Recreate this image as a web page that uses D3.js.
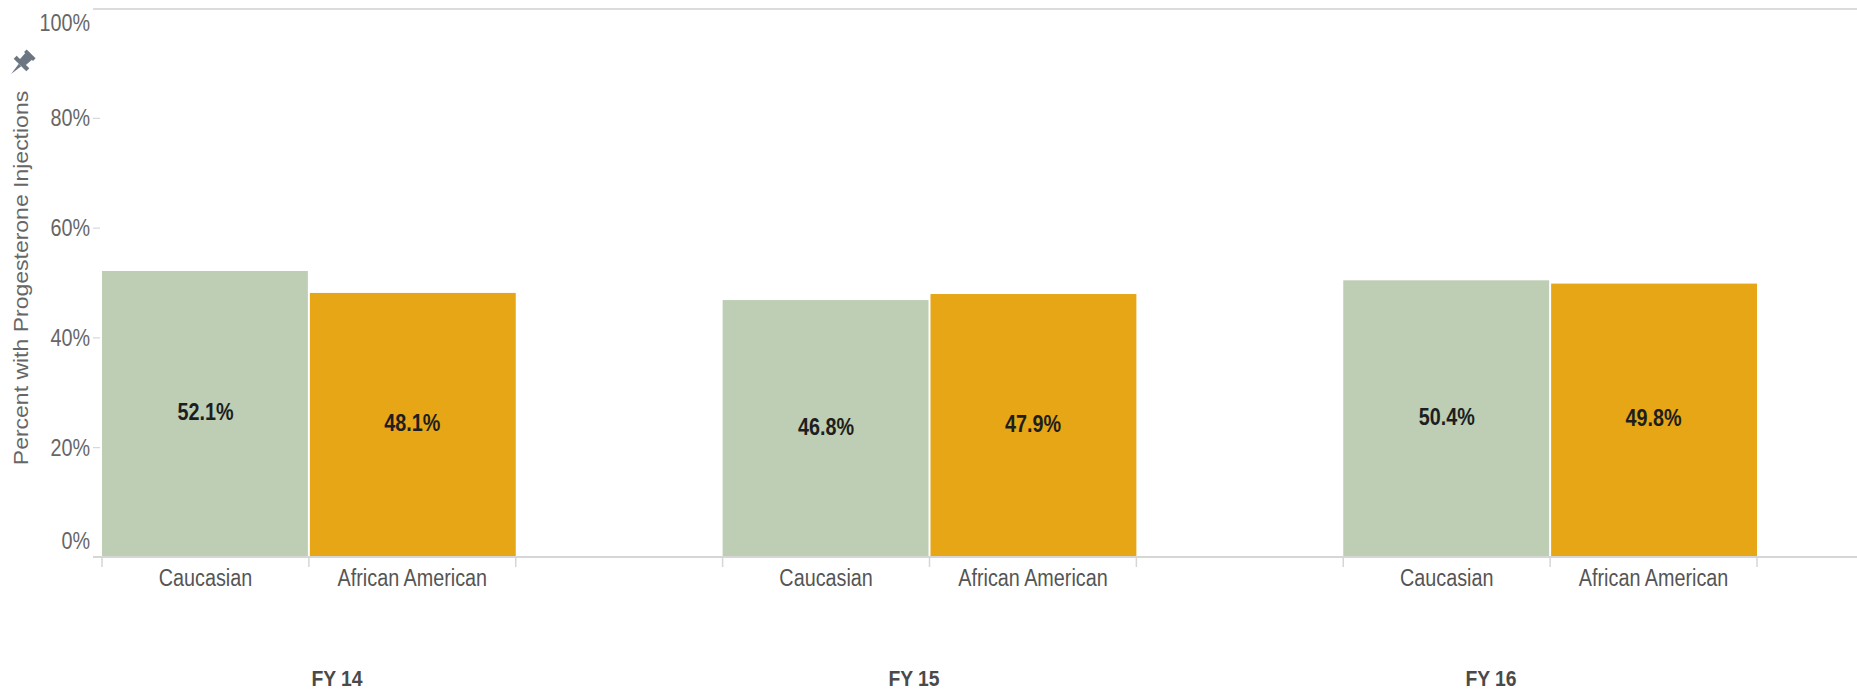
<!DOCTYPE html>
<html>
<head>
<meta charset="utf-8">
<script src="https://cdn.jsdelivr.net/npm/d3@7"></script>
<style>
  html, body { margin: 0; padding: 0; background: #fff; }
  svg { display: block; }
  text { font-family: "Liberation Sans", Arial, sans-serif; }
</style>
</head>
<body>
<svg id="chart" width="1857" height="691"></svg>
<script>
// Percent of eligible mothers receiving progesterone injections, by fiscal year and race
const years = ["FY 14", "FY 15", "FY 16"];
const races = ["Caucasian", "African American"];
const caucasian = [52.1, 46.8, 50.4];
const africanAmerican = [48.1, 47.9, 49.8];
const yTicks = [0, 20, 40, 60, 80, 100];
const raceColors = ["#bdceb4", "#e6a616"];

const W = 1857, H = 691;
const plot = { left: 100, right: W, top: 8, bottom: 557 };
const squeeze = 0.86; // horizontal condensing of all labels
const fontSize = 23;

const svg = d3.select("#chart");

const rows = years.map((yr, i) => ({
  year: yr,
  values: [caucasian[i], africanAmerican[i]]
}));

const x0 = d3.scaleBand().domain(years).range([102, 1757]).paddingInner(1 / 3).paddingOuter(0);
const x1 = d3.scaleBand().domain(races).range([0, x0.bandwidth()]);
const xHeader = d3.scalePoint().domain(years).range([337, 1491]);
const y = d3.scaleLinear().domain([0, 100]).range([plot.bottom, plot.top]);
const color = d3.scaleOrdinal().domain(races).range(raceColors);

// frame: top border
svg.append("line")
  .attr("x1", 93).attr("x2", W).attr("y1", 9).attr("y2", 9)
  .attr("stroke", "#dcdcdc").attr("stroke-width", 2);

// bars
const groupsSel = svg.append("g").selectAll("g")
  .data(rows).join("g")
  .attr("transform", d => `translate(${x0(d.year)},0)`);

groupsSel.selectAll("rect")
  .data(d => d.values.map((v, j) => ({ race: races[j], value: v })))
  .join("rect")
  .attr("x", d => x1(d.race) + (d.race === races[0] ? 0 : 1))
  .attr("width", x1.bandwidth() - 1)
  .attr("y", d => y(d.value))
  .attr("height", d => y(0) - y(d.value))
  .attr("fill", d => color(d.race));

// value labels in the middle of each bar
groupsSel.selectAll("text.value")
  .data(d => d.values.map((v, j) => ({ race: races[j], value: v })))
  .join("text")
  .attr("class", "value")
  .attr("transform", d => `translate(${x1(d.race) + x1.bandwidth() / 2},${(y(d.value) + y(0)) / 2 + 6}) scale(${squeeze},1)`)
  .attr("text-anchor", "middle")
  .attr("font-size", fontSize)
  .attr("font-weight", "bold")
  .attr("fill", "#1e1e1e")
  .text(d => d.value.toFixed(1) + "%");

// baseline
svg.append("line")
  .attr("x1", 93).attr("x2", W).attr("y1", y(0)).attr("y2", y(0))
  .attr("stroke", "#d6d6d6").attr("stroke-width", 2);

// category ticks at bar edges
groupsSel.selectAll("line.edge")
  .data([0, x1.bandwidth(), x0.bandwidth()])
  .join("line")
  .attr("class", "edge")
  .attr("x1", d => d).attr("x2", d => d)
  .attr("y1", y(0)).attr("y2", y(0) + 10)
  .attr("stroke", "#d6d6d6").attr("stroke-width", 1.5);

// race labels
groupsSel.selectAll("text.race")
  .data(races)
  .join("text")
  .attr("class", "race")
  .attr("transform", d => `translate(${x1(d) + x1.bandwidth() / 2},586) scale(${squeeze},1)`)
  .attr("text-anchor", "middle")
  .attr("font-size", fontSize)
  .attr("fill", "#555")
  .text(d => d);

// fiscal year header labels
svg.append("g").selectAll("text")
  .data(years)
  .join("text")
  .attr("transform", d => `translate(${xHeader(d)},686) scale(${squeeze},1)`)
  .attr("text-anchor", "middle")
  .attr("font-size", fontSize - 0.5)
  .attr("font-weight", "bold")
  .attr("fill", "#4a4a4a")
  .text(d => d);

// y axis
const yAxis = svg.append("g")
  .attr("transform", `translate(${plot.left},0)`)
  .call(d3.axisLeft(y).tickValues(yTicks).tickFormat(d => d + "%").tickSize(7).tickPadding(10));

yAxis.select(".domain").remove();
yAxis.selectAll(".tick line")
  .attr("stroke", "#cfcfcf")
  .attr("opacity", d => (d === 0 || d === 100) ? 0 : 1);
yAxis.selectAll(".tick text")
  .attr("x", null).attr("dy", null)
  .attr("transform", d => `translate(-10,${d === 100 ? 22 : d === 0 ? -9 : 8}) scale(${squeeze},1)`)
  .attr("font-family", null)
  .attr("font-size", fontSize)
  .attr("fill", "#666");

// y axis title
svg.append("text")
  .attr("transform", `translate(28,278) rotate(-90) scale(1,${squeeze})`)
  .attr("text-anchor", "middle")
  .attr("font-size", fontSize)
  .attr("fill", "#666")
  .text("Percent with Progesterone Injections");

// pin icon above the axis title
const pin = svg.append("g")
  .attr("transform", "translate(20,65) rotate(45) scale(1.05)")
  .attr("fill", "#6b7682");
pin.append("rect").attr("x", -6).attr("y", -15).attr("width", 12).attr("height", 3.5);
pin.append("path").attr("d", "M-4.5,-12 L4.5,-12 L4,-3.5 L-4,-3.5 Z");
pin.append("rect").attr("x", -8.5).attr("y", -4).attr("width", 17).attr("height", 4);
pin.append("path").attr("d", "M-1.6,0 L1.6,0 L0,12 Z");
</script>
</body>
</html>
